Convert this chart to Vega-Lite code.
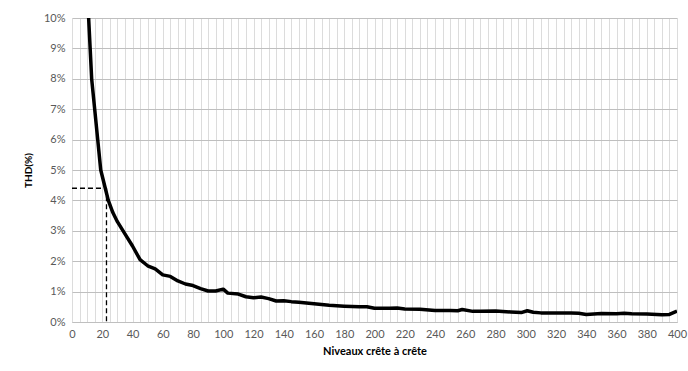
{
  "$schema": "https://vega.github.io/schema/vega-lite/v6.json",
  "autosize": "none",
  "width": 605,
  "height": 304,
  "padding": {"left": 72, "top": 18, "right": 11, "bottom": 49},
  "background": "white",
  "config": {
    "view": {"stroke": null},
    "font": "Lato",
    "axis": {"labelFont": "Lato", "titleFont": "Lato", "labelColor": "#595959", "titleColor": "#000000"}
  },
  "datasets": {
    "curve": [
      {"n": 11, "thd": 10}, {"n": 12, "thd": 9}, {"n": 13, "thd": 8}, {"n": 15, "thd": 7},
      {"n": 17, "thd": 6}, {"n": 19, "thd": 5}, {"n": 22, "thd": 4.4}, {"n": 24, "thd": 4},
      {"n": 27, "thd": 3.6}, {"n": 30, "thd": 3.3}, {"n": 35, "thd": 2.9}, {"n": 40, "thd": 2.5},
      {"n": 45, "thd": 2.05}, {"n": 50, "thd": 1.85}, {"n": 55, "thd": 1.75}, {"n": 60, "thd": 1.55},
      {"n": 65, "thd": 1.5}, {"n": 70, "thd": 1.35}, {"n": 75, "thd": 1.25}, {"n": 80, "thd": 1.2},
      {"n": 85, "thd": 1.1}, {"n": 90, "thd": 1.02}, {"n": 95, "thd": 1.02}, {"n": 100, "thd": 1.08},
      {"n": 103, "thd": 0.95}, {"n": 110, "thd": 0.92}, {"n": 115, "thd": 0.83}, {"n": 120, "thd": 0.8},
      {"n": 125, "thd": 0.82}, {"n": 130, "thd": 0.77}, {"n": 135, "thd": 0.69}, {"n": 140, "thd": 0.7},
      {"n": 145, "thd": 0.67}, {"n": 150, "thd": 0.65}, {"n": 160, "thd": 0.6}, {"n": 170, "thd": 0.55},
      {"n": 180, "thd": 0.52}, {"n": 190, "thd": 0.5}, {"n": 195, "thd": 0.5}, {"n": 200, "thd": 0.45},
      {"n": 210, "thd": 0.45}, {"n": 215, "thd": 0.46}, {"n": 220, "thd": 0.43}, {"n": 230, "thd": 0.42},
      {"n": 240, "thd": 0.38}, {"n": 250, "thd": 0.38}, {"n": 255, "thd": 0.37}, {"n": 258, "thd": 0.41},
      {"n": 265, "thd": 0.35}, {"n": 270, "thd": 0.35}, {"n": 280, "thd": 0.36}, {"n": 290, "thd": 0.33},
      {"n": 297, "thd": 0.31}, {"n": 301, "thd": 0.37}, {"n": 305, "thd": 0.32}, {"n": 310, "thd": 0.3},
      {"n": 320, "thd": 0.3}, {"n": 330, "thd": 0.3}, {"n": 335, "thd": 0.29}, {"n": 340, "thd": 0.25},
      {"n": 350, "thd": 0.28}, {"n": 360, "thd": 0.27}, {"n": 365, "thd": 0.29}, {"n": 370, "thd": 0.27},
      {"n": 380, "thd": 0.26}, {"n": 390, "thd": 0.24}, {"n": 395, "thd": 0.25}, {"n": 400, "thd": 0.36}
    ],
    "guide": [
      {"n": 0, "thd": 4.4, "seg": "h"}, {"n": 22.8, "thd": 4.4, "seg": "h"},
      {"n": 22.8, "thd": 4.4, "seg": "v"}, {"n": 22.8, "thd": 0, "seg": "v"}
    ]
  },
  "encoding": {
    "x": {
      "field": "n", "type": "quantitative",
      "scale": {"domain": [0, 400], "nice": false, "zero": false},
      "axis": {
        "title": "Niveaux crête à crête",
        "titleFontSize": 11, "titleFontWeight": "bold", "titlePadding": 6,
        "values": [0,5,10,15,20,25,30,35,40,45,50,55,60,65,70,75,80,85,90,95,100,105,110,115,120,125,130,135,140,145,150,155,160,165,170,175,180,185,190,195,200,205,210,215,220,225,230,235,240,245,250,255,260,265,270,275,280,285,290,295,300,305,310,315,320,325,330,335,340,345,350,355,360,365,370,375,380,385,390,395,400],
        "labelExpr": "datum.value % 20 == 0 ? datum.value : ''",
        "labelFontSize": 11, "labelPadding": 6, "labelFlush": false, "labelOverlap": false,
        "ticks": false,
        "grid": true, "gridColor": "#dcdcdc", "gridWidth": 1,
        "domain": true, "domainColor": "#bfbfbf"
      }
    },
    "y": {
      "field": "thd", "type": "quantitative",
      "scale": {"domain": [0, 10], "nice": false},
      "axis": {
        "title": "THD(%)",
        "titleFontSize": 10, "titleFontWeight": "bold", "titlePadding": 10,
        "values": [0,1,2,3,4,5,6,7,8,9,10],
        "labelExpr": "datum.value + '%'",
        "labelFontSize": 11, "labelPadding": 7, "labelFlush": false,
        "ticks": false, "domain": false,
        "grid": true, "gridColor": "#bfbfbf", "gridWidth": 1
      }
    }
  },
  "layer": [
    {
      "data": {"name": "guide"},
      "mark": {"type": "line", "color": "black", "strokeWidth": 1.3, "strokeDash": [5, 3]},
      "encoding": {"detail": {"field": "seg"}}
    },
    {
      "data": {"name": "curve"},
      "mark": {"type": "line", "color": "black", "strokeWidth": 3.5, "clip": true, "strokeJoin": "round"},
      "encoding": {}
    }
  ]
}
